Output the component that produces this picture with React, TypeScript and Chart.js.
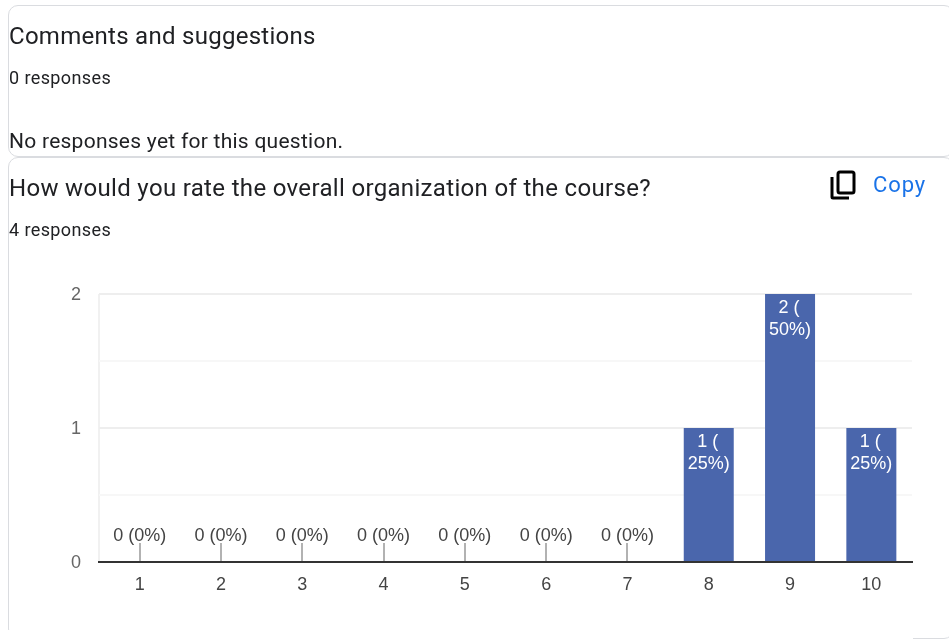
import React, { useEffect, useRef } from "react";
import { Chart, registerables } from "chart.js";

Chart.register(...registerables);

const categories = ["1", "2", "3", "4", "5", "6", "7", "8", "9", "10"];
const responses = [0, 0, 0, 0, 0, 0, 0, 1, 2, 1];
const percents = [0, 0, 0, 0, 0, 0, 0, 25, 50, 25];
const yTicks = [0, 1, 2];

const FONT = '"Liberation Sans", Arial, sans-serif';
const UI = 'Roboto, sans-serif';

const labelsPlugin = {
  id: "valueLabels",
  afterDatasetsDraw(chart: any) {
    const { ctx } = chart;
    const meta = chart.getDatasetMeta(0);
    ctx.save();
    ctx.font = `18px ${FONT}`;
    ctx.textAlign = "center";
    ctx.textBaseline = "alphabetic";
    meta.data.forEach((bar: any, i: number) => {
      const v = responses[i];
      if (v === 0) {
        ctx.strokeStyle = "#999999";
        ctx.lineWidth = 1.5;
        ctx.beginPath();
        ctx.moveTo(Math.round(bar.x), bar.y - 19);
        ctx.lineTo(Math.round(bar.x), bar.y - 1);
        ctx.stroke();
        ctx.fillStyle = "#444444";
        ctx.fillText(`${v} (${percents[i]}%)`, bar.x, bar.y - 21);
      } else {
        ctx.fillStyle = "#ffffff";
        ctx.fillText(`${v} (`, bar.x - 1, bar.y + 19);
        ctx.fillText(`${percents[i]}%)`, bar.x, bar.y + 41);
      }
    });
    ctx.restore();
  },
};

const textBase: React.CSSProperties = {
  position: "absolute",
  left: 9,
  whiteSpace: "nowrap",
  fontFamily: UI,
  color: "#202124",
};

export default function App() {
  const ref = useRef<HTMLCanvasElement>(null);
  useEffect(() => {
    const chart = new Chart(ref.current!, {
      type: "bar",
      data: {
        labels: categories,
        datasets: [
          {
            data: responses,
            backgroundColor: "#4a66ac",
            barPercentage: 0.615,
            categoryPercentage: 1,
          },
        ],
      },
      plugins: [labelsPlugin],
      options: {
        responsive: false,
        animation: false,
        layout: { padding: { top: 294, right: 37, left: 0, bottom: 0 } },
        plugins: { legend: { display: false }, tooltip: { enabled: false } },
        scales: {
          x: {
            afterFit(s: any) {
              s.height = 77;
            },
            grid: {
              drawTicks: false,
              lineWidth: 2,
              color: (c: any) => (c.index === 0 || c.index === categories.length ? "#f1f1f1" : "rgba(0,0,0,0)"),
            },
            border: { color: "#333333", width: 2 },
            ticks: { color: "#444444", font: { family: FONT, size: 18 }, padding: 12, maxRotation: 0 },
          },
          y: {
            min: 0,
            max: 2,
            afterFit(s: any) {
              s.width = 99;
            },
            grid: {
              drawTicks: false,
              lineWidth: 2,
              color: (c: any) => (Number.isInteger(c.tick?.value) ? "#eeeeee" : "#f7f7f7"),
            },
            border: { display: false },
            ticks: {
              stepSize: 0.5,
              color: "#666666",
              font: { family: FONT, size: 18 },
              padding: 18,
              labelOffset: 1,
              callback: (v: any) => (yTicks.includes(v) ? String(v) : ""),
            },
          },
        },
      },
    } as any);
    return () => chart.destroy();
  }, []);

  return (
    <div style={{ position: "fixed", left: 0, top: 0, width: 949, height: 639, overflow: "hidden", background: "#fff" }}>
      <div style={{ position: "absolute", left: 8, top: 5, width: 944, height: 150, border: "1px solid #dadce0", borderRadius: 10 }} />
      <div style={{ position: "absolute", left: 8, top: 157, width: 944, height: 480, border: "1px solid #dadce0", borderRadius: 10 }} />
      <div style={{ position: "absolute", left: 0, top: 630, width: 913, height: 9, background: "#fff" }} />
      <canvas ref={ref} width={949} height={639} style={{ position: "absolute", left: 0, top: 0, width: 949, height: 639 }} />
      <div style={{ ...textBase, top: 21, fontSize: 24, lineHeight: "30px", letterSpacing: 0.28 }}>Comments and suggestions</div>
      <div style={{ ...textBase, top: 66, fontSize: 18, lineHeight: "24px", letterSpacing: 0.4 }}>0 responses</div>
      <div style={{ ...textBase, top: 128, fontSize: 21, lineHeight: "26px", letterSpacing: 0.26 }}>No responses yet for this question.</div>
      <div style={{ ...textBase, top: 173, fontSize: 24, lineHeight: "30px", letterSpacing: 0.33 }}>How would you rate the overall organization of the course?</div>
      <div style={{ ...textBase, top: 218, fontSize: 18, lineHeight: "24px", letterSpacing: 0.4 }}>4 responses</div>
      <svg style={{ position: "absolute", left: 830, top: 170 }} width="26" height="30" viewBox="0 0 26 30" fill="none" stroke="#000" strokeWidth="3">
        <rect x="8" y="2" width="16" height="21" rx="2" />
        <path d="M2 7V27a1 1 0 0 0 1 1H19" />
      </svg>
      <div style={{ ...textBase, left: 873, top: 170, fontSize: 22, lineHeight: "30px", letterSpacing: 0.9, color: "#1a73e8" }}>Copy</div>
    </div>
  );
}
